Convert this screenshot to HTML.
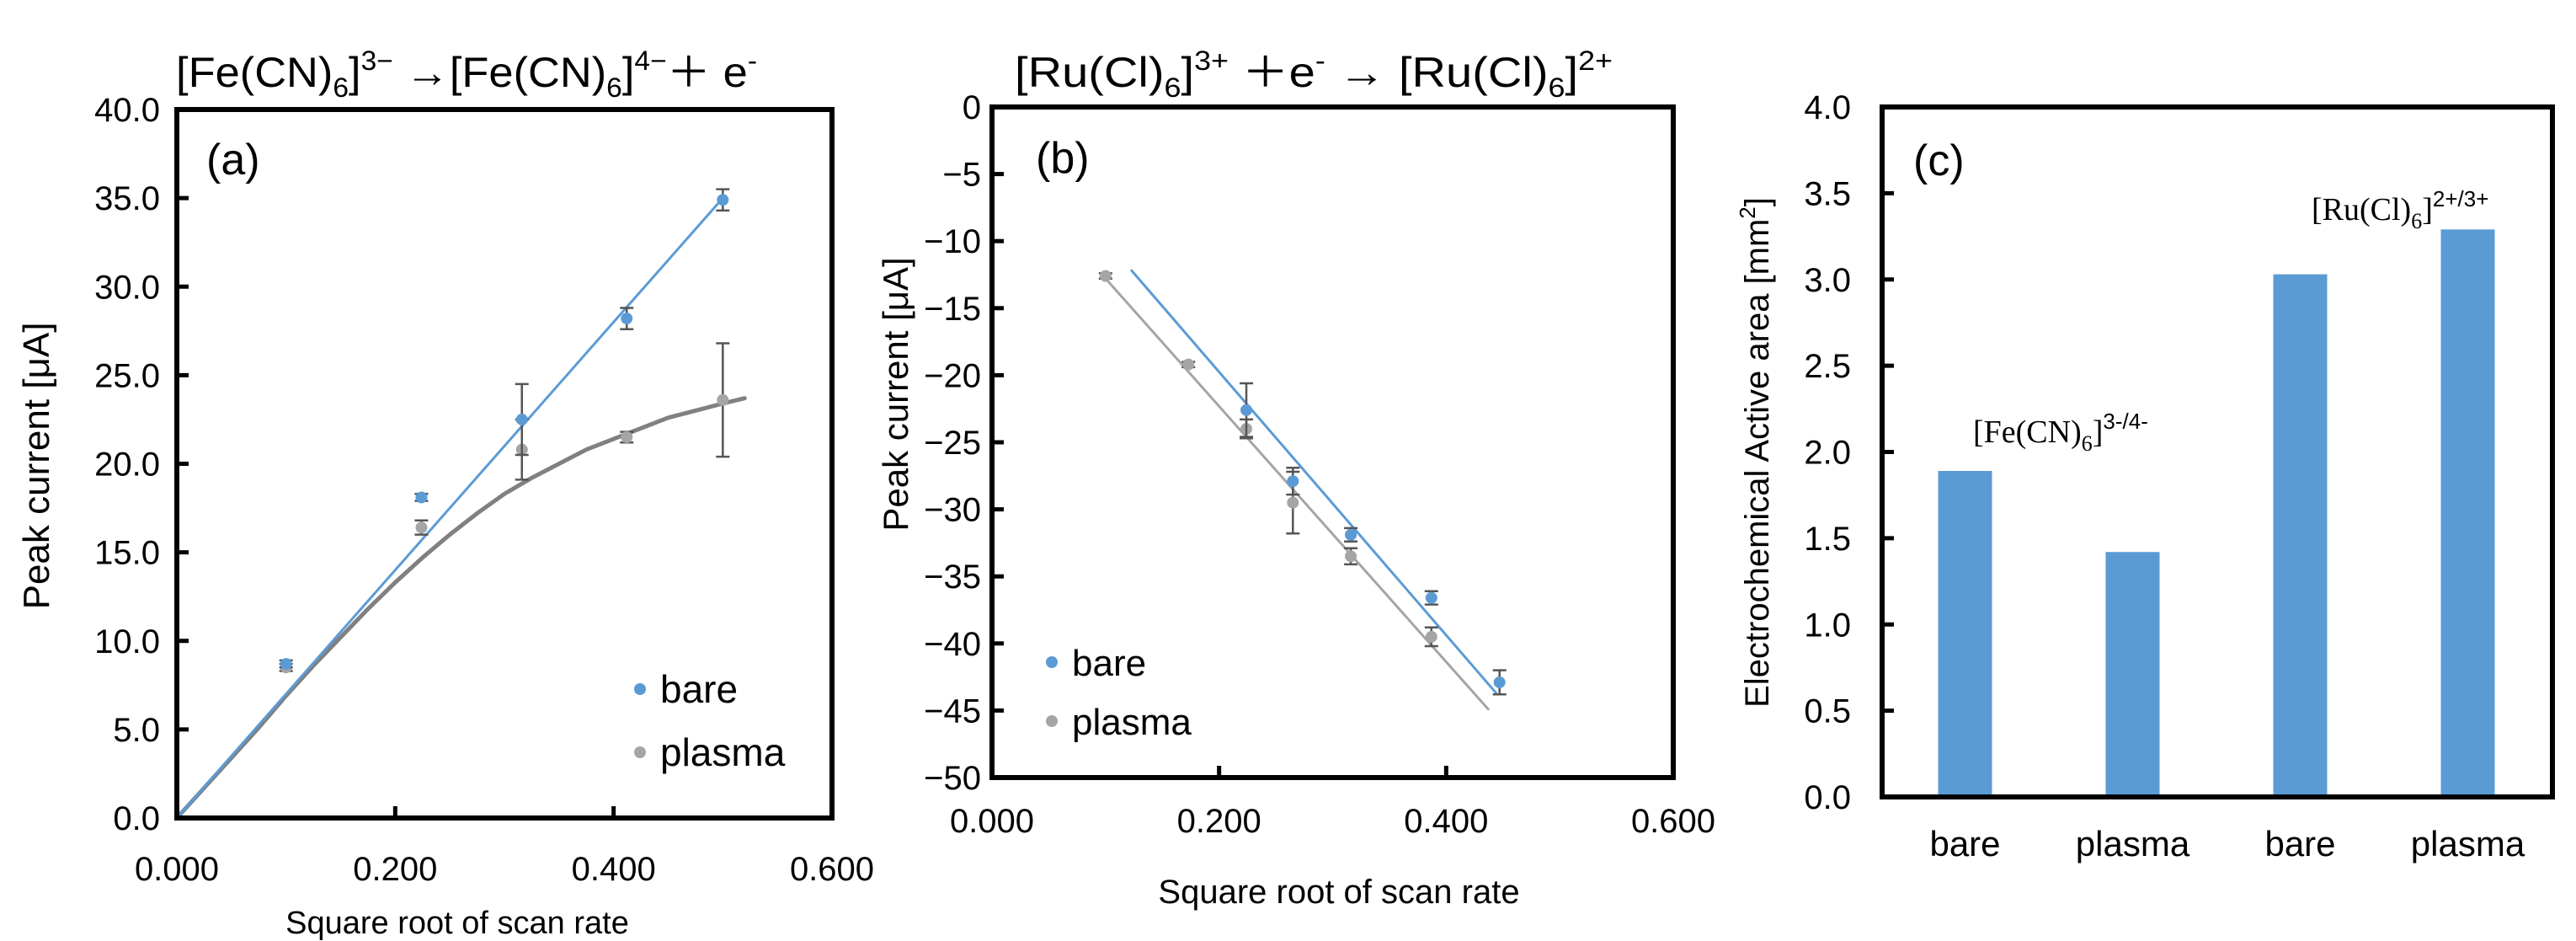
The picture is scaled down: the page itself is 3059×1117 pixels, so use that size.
<!DOCTYPE html>
<html><head><meta charset="utf-8"><style>
html,body{margin:0;padding:0;background:#fff;}
svg{display:block;font-family:"Liberation Sans",sans-serif;}
</style></head><body>
<svg id="fig" width="3059" height="1117" viewBox="0 0 3059 1117" xmlns="http://www.w3.org/2000/svg">
<g><text x="209" y="103" font-size="50" textLength="690" lengthAdjust="spacingAndGlyphs">[Fe(CN)<tspan font-size="32" dy="12">6</tspan><tspan dy="-12">]</tspan><tspan font-size="32" dy="-20">3−</tspan><tspan dy="20"> →[Fe(CN)</tspan><tspan font-size="32" dy="12">6</tspan><tspan dy="-12">]</tspan><tspan font-size="32" dy="-20">4−</tspan><tspan dy="20">＋ e</tspan><tspan font-size="32" dy="-20">-</tspan></text></g>
<g><text x="1205" y="103" font-size="50" textLength="710" lengthAdjust="spacingAndGlyphs">[Ru(Cl)<tspan font-size="32" dy="12">6</tspan><tspan dy="-12">]</tspan><tspan font-size="32" dy="-20">3+</tspan><tspan dy="20"> ＋e</tspan><tspan font-size="32" dy="-20">-</tspan><tspan dy="20"> → [Ru(Cl)</tspan><tspan font-size="32" dy="12">6</tspan><tspan dy="-12">]</tspan><tspan font-size="32" dy="-20">2+</tspan></text></g>
<g id="pa"></g>
<g id="pb"></g>
<g id="pc"></g>
<text x="2343" y="525" font-size="38" font-family="Liberation Serif, serif">[Fe(CN)<tspan font-size="26" dy="10">6</tspan><tspan dy="-10">]</tspan><tspan font-size="26" dy="-16" font-family="Liberation Sans, sans-serif">3-/4-</tspan></text>
<text x="2745" y="261" font-size="38" font-family="Liberation Serif, serif">[Ru(Cl)<tspan font-size="26" dy="10">6</tspan><tspan dy="-10">]</tspan><tspan font-size="26" dy="-16" font-family="Liberation Sans, sans-serif">2+/3+</tspan></text>
</svg>
<script>
// Panel (a)
const aX = [0.100, 0.224, 0.316, 0.412, 0.500];
const aBare = [8.7, 18.1, 22.5, 28.2, 34.9];
const aBareErr = [0.2, 0.2, 2.0, 0.6, 0.6];
const aPlasma = [8.5, 16.4, 20.8, 21.5, 23.6];
const aPlasmaErr = [0.2, 0.4, 1.7, 0.3, 3.2];
const aBareFitX = [0, 0.5];
const aBareFitY = [0, 35.0];
const aPlasmaFitX = [0, 0.025, 0.05, 0.075, 0.1, 0.125, 0.15, 0.175, 0.2, 0.225, 0.25, 0.275, 0.3, 0.325, 0.35, 0.375, 0.4, 0.425, 0.45, 0.475, 0.5, 0.52];
const aPlasmaFitY = [0, 1.7, 3.4, 5.1, 6.9, 8.6, 10.2, 11.8, 13.3, 14.7, 16.0, 17.2, 18.3, 19.2, 20.0, 20.8, 21.4, 22.0, 22.6, 23.0, 23.4, 23.7];
const aYTicks = ["0.0","5.0","10.0","15.0","20.0","25.0","30.0","35.0","40.0"];
const aXTicks = ["0.000","0.200","0.400","0.600"];
// Panel (b)
const bBareX = [0.224, 0.265, 0.316, 0.387, 0.447];
const bBare = [-22.6, -27.9, -31.9, -36.6, -42.9];
const bBareErr = [2.0, 1.0, 0.5, 0.5, 0.9];
const bPlasmaX = [0.100, 0.173, 0.224, 0.265, 0.316, 0.387];
const bPlasma = [-12.6, -19.2, -24.0, -29.5, -33.5, -39.5];
const bPlasmaErr = [0.2, 0.2, 0.7, 2.3, 0.6, 0.7];
const bBareFitX = [0.123, 0.444];
const bBareFitY = [-12.2, -43.7];
const bPlasmaFitX = [0.097, 0.437];
const bPlasmaFitY = [-12.5, -44.9];
const bYTicks = ["0","−5","−10","−15","−20","−25","−30","−35","−40","−45","−50"];
const bXTicks = ["0.000","0.200","0.400","0.600"];
// Panel (c)
const cCats = ["bare","plasma","bare","plasma"];
const cVals = [1.89, 1.42, 3.03, 3.29];
const cYTicks = ["0.0","0.5","1.0","1.5","2.0","2.5","3.0","3.5","4.0"];

const NS="http://www.w3.org/2000/svg";
function mk(parent, tag, attrs, text){
  const e=document.createElementNS(NS,tag);
  for(const k in attrs) e.setAttribute(k,attrs[k]);
  if(text!==undefined) e.textContent=text;
  parent.appendChild(e); return e;
}
const BLUE="#5b9bd5", GRAY="#a5a5a5", ERR="#555";

function frame(g, L,T,R,B){
  const r=mk(g,'rect',{x:L,y:T,width:R-L,height:B-T,fill:'none',stroke:'#000','stroke-width':6});
  
  
}
function yAxis(g, ticks, L, R, ys, fs, fmtX){
  ticks.forEach((t,i)=>{
    const y=ys(i);
    const tk=mk(g,'line',{x1:L,x2:L+14,y1:y,y2:y,stroke:'#000','stroke-width':5});
    
    
    const tx=mk(g,'text',{x:fmtX,y:y+14,'font-size':fs,'text-anchor':'end'},t);
    
    
  });
}
function scatter(g, xs, ys, errs, sx, sy, color, name){
  xs.forEach((xv,i)=>{
    const cx=sx(xv), cy=sy(ys[i]);
    const e1=sy(ys[i]+errs[i]), e2=sy(ys[i]-errs[i]);
    const eb=mk(g,'path',{d:`M${cx},${e1}V${e2}M${cx-8},${e1}H${cx+8}M${cx-8},${e2}H${cx+8}`,stroke:ERR,'stroke-width':2.5,fill:'none'});
    
    
    const c=mk(g,'circle',{cx:cx,cy:cy,r:7,fill:color});
    
    
  });
}
function line(g, xs, ys, sx, sy, color, w, name){
  const d=xs.map((v,i)=>(i?'L':'M')+sx(v)+','+sy(ys[i])).join('');
  const p=mk(g,'path',{d:d,stroke:color,'stroke-width':w,fill:'none','stroke-linejoin':'round','stroke-linecap':'round'});
  
  
}
function legend(g,x,y1,y2,fs){
  [[y1,BLUE,'bare'],[y2,GRAY,'plasma']].forEach(([y,c,t])=>{
    const d=mk(g,'circle',{cx:x,cy:y,r:7,fill:c});
    
    
    const tx=mk(g,'text',{x:x+24,y:y+16,'font-size':fs},t);
    
    
  });
}

// ---- Panel a ----
(function(){
  const g=document.getElementById('pa');
  const L=210,T=130,R=988,B=971;
  const sx=v=>L+v/0.6*(R-L), sy=v=>B-v/40*(B-T);
  yAxis(g,aYTicks,L,R,i=>sy(i*5),40,190);
  aXTicks.forEach((t,i)=>{
    const x=sx(i*0.2);
    const tk=mk(g,'line',{x1:x,x2:x,y1:B,y2:B-14,stroke:'#000','stroke-width':5});
    
    
    const tx=mk(g,'text',{x:x,y:1045,'font-size':40,'text-anchor':'middle'},t);
    
    
  });
  line(g,aPlasmaFitX,aPlasmaFitY,sx,sy,'#808080',5,'plasma-fit-curve');
  line(g,aBareFitX,aBareFitY,sx,sy,BLUE,3,'bare-fit-line');
  scatter(g,aX,aPlasma,aPlasmaErr,sx,sy,GRAY,'plasma');
  scatter(g,aX,aBare,aBareErr,sx,sy,BLUE,'bare');
  frame(g,L,T,R,B);
  const lab=mk(g,'text',{x:245,y:207,'font-size':52},'(a)');
  
  
  legend(g,760,818,893,46);
  const xt=mk(g,'text',{x:543,y:1108,'font-size':38,'text-anchor':'middle'},'Square root of scan rate');
  
  
  const yt=mk(g,'text',{x:0,y:0,'font-size':44,'text-anchor':'middle',transform:'translate(58,553) rotate(-90)'},'Peak current [μA]');
  
  
})();

// ---- Panel b ----
(function(){
  const g=document.getElementById('pb');
  const L=1178,T=127,R=1987,B=923;
  const sx=v=>L+v/0.6*(R-L), sy=v=>T+(-v)/50*(B-T);
  yAxis(g,bYTicks,L,R,i=>sy(-i*5),40,1165);
  bXTicks.forEach((t,i)=>{
    const x=sx(i*0.2);
    const tk=mk(g,'line',{x1:x,x2:x,y1:B,y2:B-14,stroke:'#000','stroke-width':5});
    
    
    const tx=mk(g,'text',{x:x,y:988,'font-size':40,'text-anchor':'middle'},t);
    
    
  });
  line(g,bPlasmaFitX,bPlasmaFitY,sx,sy,GRAY,3,'plasma-fit-line');
  line(g,bBareFitX,bBareFitY,sx,sy,BLUE,3,'bare-fit-line');
  scatter(g,bPlasmaX,bPlasma,bPlasmaErr,sx,sy,GRAY,'plasma');
  scatter(g,bBareX,bBare,bBareErr,sx,sy,BLUE,'bare');
  frame(g,L,T,R,B);
  const lab=mk(g,'text',{x:1230,y:205,'font-size':52},'(b)');
  
  
  legend(g,1249,786,856,44);
  const xt=mk(g,'text',{x:1590,y:1072,'font-size':40,'text-anchor':'middle'},'Square root of scan rate');
  
  
  const yt=mk(g,'text',{x:0,y:0,'font-size':42,'text-anchor':'middle',transform:'translate(1078,468) rotate(-90)'},'Peak current [μA]');
  
  
})();

// ---- Panel c ----
(function(){
  const g=document.getElementById('pc');
  const L=2235,T=127,R=3031,B=946;
  const sy=v=>B-v/4*(B-T);
  const step=(R-L)/cCats.length;
  yAxis(g,cYTicks,L,R,i=>sy(i*0.5),40,2198);
  cCats.forEach((c,i)=>{
    const cx=L+step*(i+0.5)-1;
    const b=mk(g,'rect',{x:cx-32,y:sy(cVals[i]),width:64,height:B-sy(cVals[i]),fill:BLUE});
    
    
    const tx=mk(g,'text',{x:cx,y:1016,'font-size':42,'text-anchor':'middle'},c);
    
    
  });
  frame(g,L,T,R,B);
  const lab=mk(g,'text',{x:2272,y:208,'font-size':52},'(c)');
  
  
  const yt=mk(g,'text',{x:0,y:0,'font-size':40,'text-anchor':'middle',transform:'translate(2100,537) rotate(-90)'});
  
  
  yt.innerHTML='Electrochemical Active area  [mm<tspan font-size="26" dy="-16">2</tspan><tspan dy="16">]</tspan>';
})();
</script>
</body></html>
